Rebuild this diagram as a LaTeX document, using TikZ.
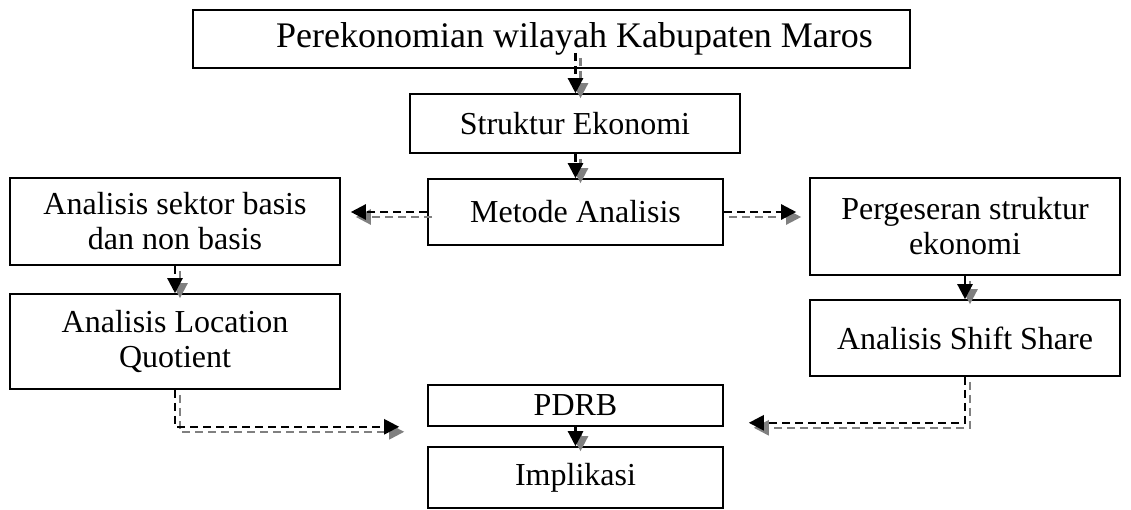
\documentclass[tikz,border=0pt]{standalone}
\usepackage{fontspec}
\setmainfont{Liberation Serif}
\usetikzlibrary{arrows.meta, positioning}
\tikzset{
  kotak/.style={rectangle, draw=black, line width=1.6pt, align=center,
    inner sep=2pt, font=\fontsize{32}{35}\selectfont},
  panah/.style={-{Triangle[length=15pt,width=15pt]}, line width=2.4pt,
    dash pattern=on 8pt off 5pt,
    preaction={draw=gray, line width=2.4pt, dash pattern=on 8pt off 5pt,
      transform canvas={shift={(5pt,-5pt)}}}},
}
\begin{document}
\begin{tikzpicture}[x=1pt, y=1pt]
  \useasboundingbox[fill=white] (0,0) rectangle (1131,-510);

  \node[kotak, font=\fontsize{36}{40}\selectfont, minimum width=717pt, minimum height=58pt] (atas) at (551.5,-39) {\hspace*{46pt}Perekonomian wilayah Kabupaten Maros};
  \node[kotak, minimum width=330pt, minimum height=59pt] (struktur) at (575,-123.5) {Struktur Ekonomi};
  \node[kotak, minimum width=295pt, minimum height=66pt] (metode) at (575.5,-212) {Metode Analisis};
  \node[kotak, minimum width=330pt, minimum height=87pt] (basis) at (175,-221.5) {Analisis sektor basis\\ dan non basis};
  \node[kotak, minimum width=310pt, minimum height=97pt] (geser) at (965,-226.5) {Pergeseran struktur\\ ekonomi};
  \node[kotak, minimum width=330pt, minimum height=95pt] (lq) at (175,-341.5) {Analisis Location\\ Quotient};
  \node[kotak, minimum width=310pt, minimum height=76pt] (shift) at (965,-338) {Analisis Shift Share};
  \node[kotak, minimum width=295pt, minimum height=41pt] (pdrb) at (575.5,-405.5) {PDRB};
  \node[kotak, minimum width=295pt, minimum height=61pt] (impl) at (575.5,-477.5) {Implikasi};

  \draw[panah] ([yshift=16pt]atas.south -| metode.north) -- (struktur.north -| metode.north);
  \draw[panah] (struktur.south -| metode.north) -- (metode.north);
  \draw[panah, shorten >=10pt] (metode.west) -- (metode.west -| basis.east);
  \draw[panah, shorten >=13pt] (metode.east) -- (metode.east -| geser.west);
  \draw[panah] (basis.south) -- (lq.north);
  \draw[panah] (geser.south) -- (shift.north);
  \draw[panah, shorten >=28pt] (lq.south) |- (pdrb.south west);
  \draw[panah, shorten >=25pt] (shift.south) |- ([yshift=4pt]pdrb.south east);
  \draw[panah] (pdrb.south) -- (impl.north);
\end{tikzpicture}
\end{document}
